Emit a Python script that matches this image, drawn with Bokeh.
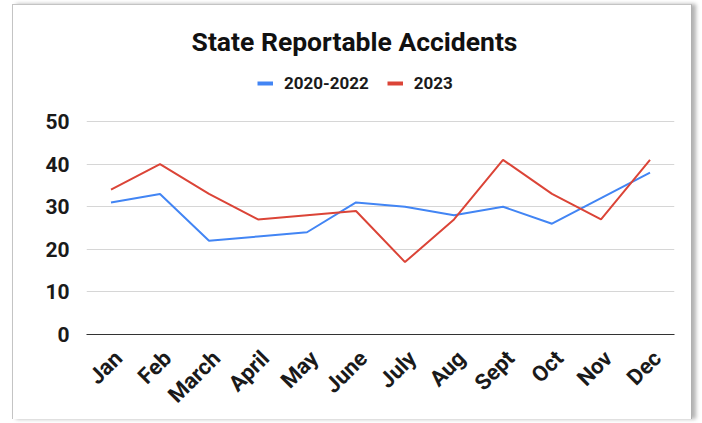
import math
from bokeh.plotting import figure
from bokeh.models import Range1d, Legend, LegendItem, FixedTicker, Label
from bokeh.embed import file_html
from bokeh.resources import INLINE

# ---- data ----
months = ["Jan", "Feb", "March", "April", "May", "June", "July", "Aug",
          "Sept", "Oct", "Nov", "Dec"]
series_a_name = "2020-2022"
series_a = [31, 33, 22, 23, 24, 31, 30, 28, 30, 26, 32, 38]
series_b_name = "2023"
series_b = [34, 40, 33, 27, 28, 29, 17, 27, 41, 33, 27, 41]
y_ticks = [0, 10, 20, 30, 40, 50]
chart_title = "State Reportable Accidents"

BLUE = "#4285F4"
RED = "#DB4437"
FONT = "Roboto"
LABEL_SHIFT = 0.15   # label anchor shift (in category widths)

# category slots: month i is centred at i + 0.5
xpos = [i + 0.5 for i in range(len(months))]

# the frame extends above the 50 line to hold the title and legend
p = figure(x_range=Range1d(0, len(months)), y_range=Range1d(0, 75.35),
           width=680, height=415, title=None,
           output_backend="svg", toolbar_location=None,
           min_border_left=73, min_border_right=19,
           min_border_top=8, min_border_bottom=86)

p.styles = {"margin-top": "4px", "margin-left": "12px",
            "border-top": "1px solid #c4c4c4",
            "border-left": "1px solid #c4c4c4",
            "border-right": "1px solid #b0b0b0",
            "box-shadow": "4px 0px 4px rgba(0,0,0,0.30)"}

p.outline_line_color = None
p.background_fill_color = "white"
p.border_fill_color = "white"

r_a = p.line(xpos, series_a, line_color=BLUE, line_width=2)
r_b = p.line(xpos, series_b, line_color=RED, line_width=2)

# legend swatch renderers: single-point lines (draw nothing in the plot)
s_a = p.line(xpos[:1], series_a[:1], line_color=BLUE, line_width=4)
s_b = p.line(xpos[:1], series_b[:1], line_color=RED, line_width=4)

# y axis
p.yaxis.ticker = FixedTicker(ticks=y_ticks)
p.yaxis.axis_line_color = None
p.yaxis.major_tick_line_color = None
p.yaxis.minor_tick_line_color = None
p.yaxis.major_label_text_font = FONT
p.yaxis.major_label_text_font_style = "bold"
p.yaxis.major_label_text_font_size = "21px"
p.yaxis.major_label_text_color = "#1a1a1a"
p.yaxis.major_label_standoff = 11

# x axis: month labels (anchor shifted slightly right, as in the original)
label_pos = [x + LABEL_SHIFT for x in xpos]
xax = p.xaxis[0]
xax.ticker = FixedTicker(ticks=label_pos)
xax.major_label_overrides = {pos: m for pos, m in zip(label_pos, months)}
xax.axis_line_color = "#333333"
xax.axis_line_width = 1.2
xax.major_tick_line_color = None
xax.minor_tick_line_color = None
xax.major_label_orientation = math.pi / 4
xax.major_label_text_font = FONT
xax.major_label_text_font_style = "bold"
xax.major_label_text_font_size = "22px"
xax.major_label_text_color = "#1a1a1a"
xax.major_label_standoff = 14

p.xgrid.grid_line_color = None
p.ygrid.grid_line_color = "#d6d6d6"
p.ygrid.grid_line_width = 1

# title (inside the extended frame, centred on the card)
p.add_layout(Label(x=5.47, y=68.8, text=chart_title, text_align="center",
                   text_baseline="middle", text_font=FONT,
                   text_font_style="bold", text_font_size="26.5px",
                   text_color="#111111"))

legend = Legend(items=[LegendItem(label=series_a_name, renderers=[s_a]),
                       LegendItem(label=series_b_name, renderers=[s_b])],
                orientation="horizontal", location=(171, 241),
                glyph_width=16, glyph_height=16, label_standoff=11,
                spacing=18, padding=0, margin=0,
                border_line_color=None, background_fill_alpha=0,
                label_text_font=FONT, label_text_font_style="bold",
                label_text_font_size="17px", label_text_color="#1a1a1a")
p.add_layout(legend, "center")

open("out.html", "w").write(file_html(p, INLINE))
